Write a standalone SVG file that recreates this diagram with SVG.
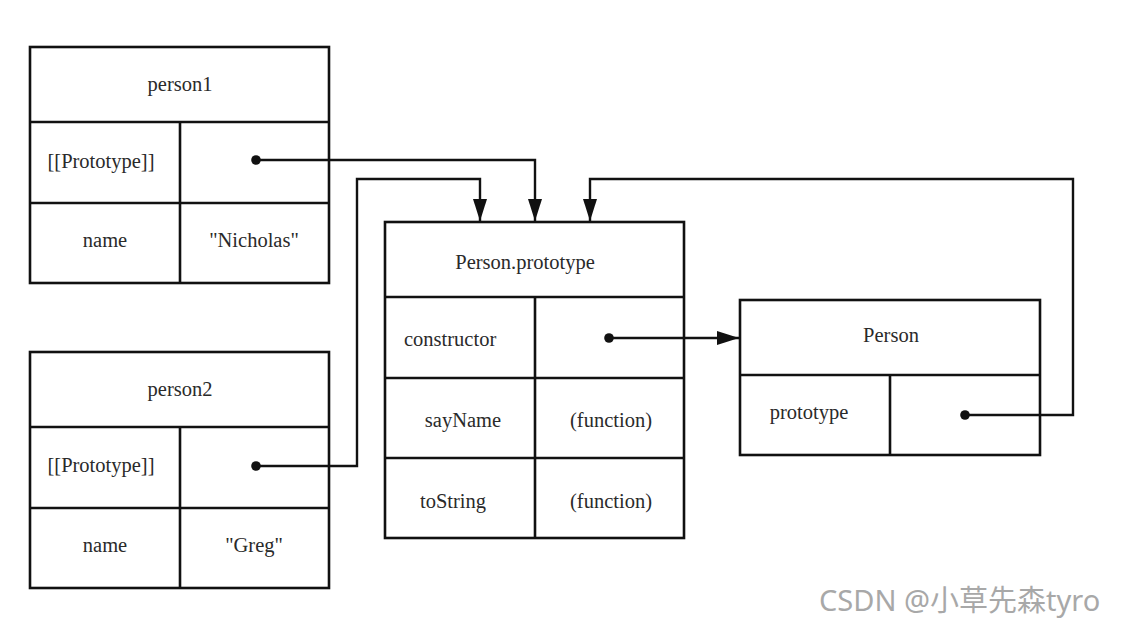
<svg xmlns="http://www.w3.org/2000/svg" width="1137" height="626" viewBox="0 0 1137 626">
<defs>
<marker id="arr" markerWidth="22" markerHeight="14" refX="22" refY="7" orient="auto" markerUnits="userSpaceOnUse">
<path d="M0,0 L22,7 L0,14 Z" fill="#111"/>
</marker>
<style>
.box{fill:#fff;stroke:#111;stroke-width:2.6}
.ln{stroke:#111;stroke-width:2.6;fill:none}
.t{font-family:"Liberation Serif","Times New Roman",serif;font-size:20.5px;fill:#2a2a2a;text-anchor:middle}
.tl{font-family:"Liberation Serif","Times New Roman",serif;font-size:20.5px;fill:#2a2a2a}
.c{fill:none;stroke:#111;stroke-width:2.4}
.dot{fill:#111}
.wm{font-family:"Noto Sans","Noto Sans CJK SC",sans-serif;font-size:29px;fill:#a8a8a8}
</style>
</defs>
<rect width="1137" height="626" fill="#fff"/>
<g id="person1">
<rect class="box" x="30" y="47" width="299" height="236"/>
<line class="ln" x1="30" y1="122" x2="329" y2="122"/>
<line class="ln" x1="30" y1="203" x2="329" y2="203"/>
<line class="ln" x1="180" y1="122" x2="180" y2="283"/>
<text class="t" x="180" y="91">person1</text>
<text class="t" x="101" y="168">[[Prototype]]</text>
<text class="t" x="105" y="247">name</text>
<text class="t" x="254" y="247">"Nicholas"</text>
</g>
<g id="person2">
<rect class="box" x="30" y="352" width="299" height="236"/>
<line class="ln" x1="30" y1="427" x2="329" y2="427"/>
<line class="ln" x1="30" y1="508" x2="329" y2="508"/>
<line class="ln" x1="180" y1="427" x2="180" y2="588"/>
<text class="t" x="180" y="396">person2</text>
<text class="t" x="101" y="472">[[Prototype]]</text>
<text class="t" x="105" y="552">name</text>
<text class="t" x="254" y="552">"Greg"</text>
</g>
<g id="personPrototype">
<rect class="box" x="385" y="222" width="299" height="316"/>
<line class="ln" x1="385" y1="297" x2="684" y2="297"/>
<line class="ln" x1="385" y1="378" x2="684" y2="378"/>
<line class="ln" x1="385" y1="458" x2="684" y2="458"/>
<line class="ln" x1="535" y1="297" x2="535" y2="538"/>
<text class="t" x="525" y="269">Person.prototype</text>
<text class="tl" x="404" y="346">constructor</text>
<text class="t" x="463" y="427">sayName</text>
<text class="t" x="453" y="508">toString</text>
<text class="t" x="611" y="427">(function)</text>
<text class="t" x="611" y="508">(function)</text>
</g>
<g id="Person">
<rect class="box" x="740" y="300" width="300" height="155"/>
<line class="ln" x1="740" y1="375" x2="1040" y2="375"/>
<line class="ln" x1="890" y1="375" x2="890" y2="455"/>
<text class="t" x="891" y="342">Person</text>
<text class="t" x="809" y="419">prototype</text>
</g>
<g id="connectors">
<circle class="dot" cx="256" cy="160" r="4.8"/>
<path class="c" d="M256,160 H535 V221" marker-end="url(#arr)"/>
<circle class="dot" cx="256" cy="466" r="4.8"/>
<path class="c" d="M256,466 H357 V179 H480 V221" marker-end="url(#arr)"/>
<circle class="dot" cx="965" cy="415" r="4.8"/>
<path class="c" d="M965,415 H1073 V179 H590 V221" marker-end="url(#arr)"/>
<circle class="dot" cx="609" cy="338" r="4.8"/>
<path class="c" d="M609,338 H739" marker-end="url(#arr)"/>
</g>
<text class="wm" x="819" y="611">CSDN @小草先森tyro</text>
</svg>
